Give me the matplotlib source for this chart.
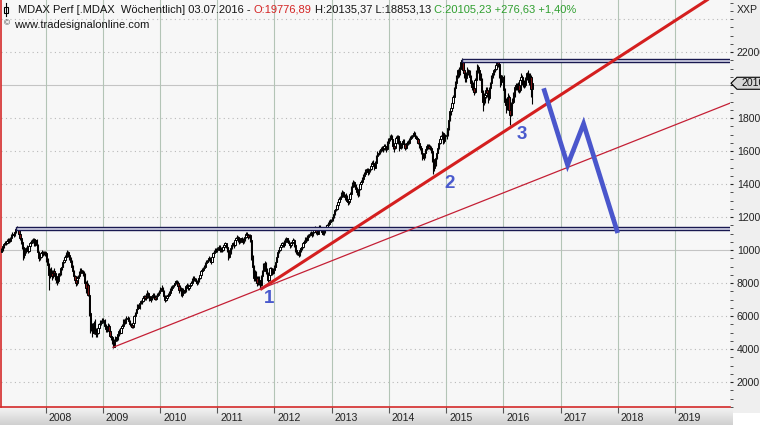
import numpy as np
import pandas as pd
import matplotlib
matplotlib.use('Agg')
import matplotlib.pyplot as plt
import matplotlib.dates as mdates
from matplotlib.patches import Rectangle, Polygon
from matplotlib.ticker import MultipleLocator
from matplotlib.transforms import offset_copy
from matplotlib.colors import LinearSegmentedColormap

# ---------------- data (weekly MDAX Perf) ----------------
last_bar_date = '2016-07-03'
first_open = 9900
closes = [
    # 2007
    10000, 10250, 10350, 10450, 10400, 10550, 10600, 10550, 10700, 10900,
    11000, 10900, 11100, 11300, 11350, 11200, 11000, 10700, 10500, 10200,
    9700, 9900, 10100, 10150, 9950, 10250, 10400, 10500, 10550, 10650,
    10350, 10600, 10300, 9900, 9500, 9600, 9800, 9900, 9750, 9850, 9800,
    # 2008
    9400, 9100, 8500, 8700, 8600, 8400, 8700, 8600, 8400, 8200, 8100, 8500, 8600,
    8900, 9000, 9300, 9400, 9600, 9800, 9900, 9700, 9500, 9300, 9000, 8700, 8400,
    8200, 8000, 8300, 8400, 8600, 8800, 8700, 8600, 8500, 8000, 7700, 7900, 7300,
    6200, 5300, 5400, 5000, 5600, 5200, 4900, 5000, 5300, 5500, 5600, 5650, 5750,
    # 2009
    5700, 5400, 5200, 5300, 5400, 5100, 4800, 4700, 4400, 4150, 4500, 4700, 4600,
    4900, 5100, 5000, 5300, 5400, 5700, 5600, 5800, 5900, 5850, 5700, 5500, 5450,
    5350, 5600, 6000, 6200, 6400, 6600, 6500, 6800, 6900, 6900, 7100, 7200, 7100,
    7300, 7400, 7200, 7000, 7100, 7200, 7300, 7150, 7050, 7200, 7300, 7400, 7500,
    # 2010
    7600, 7700, 7500, 7200, 7000, 7100, 7200, 7300, 7400, 7600, 7700, 7800, 7900,
    8000, 8100, 8000, 7800, 7600, 7700, 7300, 7400, 7600, 7500, 7800, 7900, 7700,
    7800, 7900, 8000, 8200, 8300, 8200, 8100, 8000, 8100, 8300, 8500, 8700, 8800,
    8900, 9000, 9200, 9300, 9400, 9500, 9400, 9300, 9600, 9800, 9900, 10000, 10000,
    # 2011
    10100, 10200, 10000, 10100, 10000, 10200, 10300, 10400, 10200, 10000, 9600, 9800, 10100,
    10300, 10400, 10300, 10600, 10700, 10800, 10600, 10500, 10700, 10600, 10500, 10600, 10800,
    11000, 10900, 10800, 10900, 10600, 9600, 9000, 8300, 8600, 8300, 8000, 8200, 8100,
    7900, 8400, 8700, 9100, 9200, 8700, 8600, 8200, 8500, 8900, 8700, 8600, 8800,
    # 2012
    9000, 9300, 9600, 9900, 10000, 10200, 10300, 10400, 10300, 10500, 10600, 10700, 10500,
    10400, 10300, 10400, 10500, 10600, 10300, 10000, 9900, 9800, 9700, 10000, 10100, 10200,
    10400, 10500, 10700, 10600, 10800, 10900, 11000, 11000, 10900, 11100, 11200, 11300, 11100, 11000,
    11200, 11400, 11300, 11100, 11000, 11100, 11300, 11400, 11500, 11600, 11700, 11750, 11800,
    # 2013
    12000, 12200, 12400, 12500, 12700, 12900, 13100, 13200, 13400, 13500, 13300, 13200, 13300,
    13000, 12900, 13100, 13400, 13800, 14000, 14100, 13900, 13700, 13500, 13400, 13700, 14000,
    14100, 14300, 14500, 14600, 14800, 14900, 14700, 14800, 14900, 15100, 15300, 15200, 15000,
    15300, 15700, 15900, 15900, 16000, 16100, 16200, 16100, 16300, 16200, 16100, 16500, 16700,
    # 2014
    16800, 16900, 16700, 16300, 16200, 16500, 16800, 16900, 16600, 16200, 16300, 16500, 16600,
    16400, 16200, 16400, 16500, 16500, 16700, 16800, 16900, 17000, 17100, 16900, 16800, 16700,
    16500, 16300, 16200, 15900, 15600, 15700, 15900, 16100, 16300, 16300, 16200, 16200, 16000,
    15500, 15000, 15200, 15600, 15900, 16200, 16500, 16700, 16900, 17100, 16600, 16900, 16900,
    # 2015
    17000, 17400, 17900, 18400, 18600, 18900, 19300, 19800, 20100, 20500, 20900, 20700, 21000,
    21400, 21500, 20900, 20700, 20400, 20700, 20900, 20800, 20500, 20100, 19900, 19800, 19600,
    20300, 20800, 21100, 20900, 20500, 20300, 19600, 19000, 19300, 19400, 19700, 19500, 19200,
    19800, 20100, 20500, 20700, 20900, 21000, 21200, 21400, 21300, 20600, 20200, 20400, 20500,
    # 2016
    19700, 19000, 18800, 18900, 19300, 18500, 18200, 18900, 19000, 19500, 19900, 20000, 19900,
    20000, 19700, 20300, 20500, 20200, 20100, 20000, 20400, 20700, 20600, 20200, 20500, 19777, 20105,
]
highs = [
    # 2007
    10100, 10300, 10450, 10550, 10550, 10650, 10700, 10700, 10800, 10950,
    11100, 11100, 11200, 11400, 11450, 11400, 11250, 11050, 10800, 10600,
    10300, 10000, 10200, 10300, 10250, 10300, 10450, 10600, 10650, 10750,
    10700, 10650, 10650, 10350, 9950, 9750, 9900, 10000, 9950, 9950, 9950,
    # 2008
    9900, 9500, 9200, 8900, 9000, 8800, 8800, 8900, 8700, 8500, 8350, 8600, 8700,
    9000, 9100, 9350, 9500, 9700, 9900, 10000, 9950, 9800, 9600, 9400, 9100, 8800,
    8500, 8300, 8400, 8500, 8700, 8900, 8900, 8800, 8700, 8600, 8100, 8200, 8000,
    7400, 6300, 5900, 5600, 5700, 5800, 5300, 5200, 5400, 5600, 5750, 5750, 5850,
    # 2009
    5900, 5800, 5500, 5400, 5550, 5500, 5200, 4950, 4800, 4500, 4600, 4800, 4850,
    5000, 5200, 5250, 5400, 5500, 5800, 5800, 5900, 6000, 6000, 5950, 5750, 5600,
    5500, 5650, 6050, 6250, 6450, 6700, 6700, 6850, 7000, 7050, 7200, 7300, 7300,
    7400, 7600, 7450, 7300, 7200, 7300, 7400, 7400, 7250, 7300, 7400, 7450, 7600,
    # 2010
    7750, 7850, 7750, 7550, 7300, 7250, 7300, 7400, 7500, 7700, 7800, 7900, 8000,
    8100, 8200, 8200, 8100, 7900, 7900, 7750, 7550, 7700, 7700, 7850, 8000, 7950,
    7900, 8000, 8100, 8300, 8400, 8400, 8300, 8200, 8200, 8400, 8600, 8800, 8900,
    9000, 9100, 9300, 9400, 9500, 9650, 9600, 9500, 9700, 9900, 10000, 10100, 10100,
    # 2011
    10200, 10300, 10300, 10200, 10200, 10300, 10400, 10500, 10450, 10300, 10100, 9900, 10200,
    10400, 10500, 10500, 10650, 10800, 10900, 10850, 10700, 10750, 10800, 10700, 10700, 10900,
    11100, 11100, 11000, 11000, 10950, 10650, 9700, 9100, 8800, 8700, 8400, 8400, 8400,
    8200, 8500, 8800, 9200, 9350, 9250, 8900, 8650, 8600, 9000, 9000, 8800, 8900,
    # 2012
    9100, 9400, 9700, 10000, 10100, 10300, 10400, 10500, 10500, 10600, 10700, 10800, 10750,
    10600, 10500, 10500, 10600, 10700, 10650, 10400, 10100, 10000, 9900, 10100, 10200, 10300,
    10500, 10600, 10800, 10800, 10900, 11000, 11100, 11150, 11100, 11200, 11350, 11450, 11350, 11200,
    11300, 11500, 11500, 11350, 11200, 11200, 11400, 11500, 11600, 11700, 11800, 11850, 11900,
    # 2013
    12100, 12300, 12500, 12650, 12800, 13000, 13200, 13300, 13500, 13650, 13600, 13400, 13450,
    13350, 13100, 13200, 13500, 13850, 14100, 14250, 14200, 14000, 13800, 13600, 13800, 14100,
    14250, 14400, 14600, 14700, 14900, 15000, 15000, 14900, 15000, 15200, 15400, 15450, 15300,
    15400, 15750, 16000, 16050, 16100, 16250, 16300, 16300, 16400, 16400, 16300, 16600, 16800,
    # 2014
    16950, 17050, 17000, 16750, 16400, 16600, 16900, 17000, 16950, 16700, 16450, 16600, 16750,
    16700, 16500, 16500, 16600, 16650, 16800, 16900, 17000, 17100, 17200, 17150, 17000, 16900,
    16800, 16600, 16400, 16300, 16000, 15800, 16000, 16200, 16400, 16450, 16400, 16350, 16300,
    16100, 15600, 15300, 15700, 16000, 16300, 16600, 16800, 17000, 17200, 17150, 17000, 17050,
    # 2015
    17200, 17500, 18000, 18500, 18700, 19000, 19400, 19900, 20250, 20600, 21000, 21100, 21150,
    21500, 21650, 21550, 21100, 20800, 20800, 21100, 21000, 20900, 20600, 20300, 20200, 20000,
    20400, 20900, 21250, 21200, 21000, 20700, 20400, 19700, 19500, 19600, 19900, 19900, 19600,
    19900, 20200, 20600, 20800, 21000, 21150, 21300, 21500, 21500, 21350, 20700, 20500, 20600,
    # 2016
    20600, 19800, 19200, 19200, 19500, 19400, 18600, 19000, 19200, 19600, 20000, 20100, 20100,
    20200, 20100, 20400, 20700, 20600, 20300, 20300, 20500, 20800, 20900, 20700, 20700, 20600, 20135,
]
lows = [
    # 2007
    9850, 9950, 10150, 10300, 10300, 10350, 10450, 10450, 10500, 10650,
    10850, 10800, 10850, 11050, 11200, 11100, 10900, 10600, 10350, 10050,
    9400, 9500, 9800, 9950, 9800, 9850, 10150, 10300, 10400, 10450,
    10250, 10250, 10200, 9800, 9350, 9400, 9500, 9700, 9650, 9700, 9650,
    # 2008
    9300, 8900, 7600, 8300, 8400, 8200, 8300, 8450, 8200, 8000, 7850, 8000, 8400,
    8500, 8800, 8950, 9200, 9350, 9550, 9700, 9600, 9400, 9200, 8900, 8600, 8300,
    8000, 7800, 7900, 8150, 8300, 8500, 8600, 8450, 8350, 7900, 7400, 7500, 7200,
    6000, 5000, 5100, 4700, 4900, 5100, 4750, 4750, 4900, 5200, 5350, 5450, 5550,
    # 2009
    5550, 5300, 5050, 5050, 5200, 5000, 4750, 4550, 4300, 4080, 4100, 4400, 4500,
    4550, 4800, 4900, 4950, 5200, 5350, 5500, 5500, 5700, 5750, 5600, 5400, 5350,
    5250, 5300, 5550, 5950, 6100, 6350, 6400, 6450, 6700, 6750, 6850, 7050, 7000,
    7000, 7250, 7100, 6900, 6850, 7000, 7100, 7050, 6950, 7000, 7150, 7250, 7350,
    # 2010
    7450, 7550, 7400, 7100, 6850, 6900, 7000, 7150, 7250, 7350, 7550, 7650, 7750,
    7850, 7950, 7900, 7700, 7400, 7500, 7200, 7150, 7350, 7400, 7450, 7750, 7600,
    7600, 7700, 7850, 7950, 8150, 8100, 8000, 7900, 7950, 8050, 8250, 8450, 8650,
    8750, 8850, 8950, 9150, 9250, 9350, 9300, 9150, 9250, 9550, 9750, 9850, 9900,
    # 2011
    9900, 10000, 9900, 9900, 9850, 9950, 10150, 10250, 10100, 9900, 9400, 9500, 9750,
    10050, 10250, 10150, 10250, 10550, 10650, 10500, 10350, 10450, 10500, 10350, 10400, 10550,
    10750, 10800, 10650, 10700, 10500, 9400, 8600, 8100, 8150, 8100, 7800, 7850, 7900,
    7650, 7800, 8300, 8600, 9000, 8550, 8450, 8050, 8100, 8450, 8600, 8500, 8550,
    # 2012
    8700, 8950, 9250, 9550, 9800, 9950, 10100, 10250, 10200, 10200, 10400, 10550, 10400,
    10300, 10150, 10200, 10300, 10450, 10200, 9900, 9750, 9700, 9600, 9650, 9900, 10000,
    10150, 10350, 10450, 10500, 10550, 10750, 10850, 10900, 10800, 10850, 11050, 11150, 11000, 10900,
    10950, 11150, 11200, 11000, 10900, 10900, 11050, 11250, 11350, 11450, 11550, 11650, 11700,
    # 2013
    11750, 11950, 12150, 12350, 12400, 12600, 12850, 13000, 13100, 13300, 13200, 13050, 13100,
    12900, 12750, 12800, 13050, 13350, 13750, 13950, 13800, 13600, 13350, 13200, 13300, 13650,
    13950, 14050, 14250, 14400, 14550, 14700, 14550, 14600, 14700, 14850, 15050, 15100, 14850,
    14950, 15250, 15650, 15750, 15800, 15950, 16000, 15950, 16050, 16050, 15950, 16050, 16450,
    # 2014
    16600, 16750, 16600, 16150, 15950, 16150, 16450, 16750, 16400, 16000, 16100, 16200, 16400,
    16300, 16050, 16100, 16300, 16350, 16450, 16650, 16750, 16850, 16950, 16800, 16700, 16550,
    16400, 16200, 16050, 15800, 15450, 15450, 15600, 15850, 16050, 16150, 16100, 16050, 15900,
    15350, 14600, 14800, 15100, 15500, 15850, 16150, 16450, 16650, 16850, 16400, 16500, 16800,
    # 2015
    16700, 16900, 17300, 17800, 18200, 18400, 18850, 19250, 19700, 20000, 20400, 20500, 20600,
    20950, 21300, 20700, 20400, 20200, 20200, 20600, 20600, 20300, 19900, 19700, 19600, 19400,
    19500, 20200, 20700, 20700, 20300, 20100, 19400, 18400, 18800, 18900, 19200, 19300, 18900,
    19100, 19700, 20000, 20400, 20600, 20800, 20900, 21100, 21100, 20400, 19900, 20000, 20300,
    # 2016
    19500, 18800, 18300, 18500, 18800, 18300, 17600, 18100, 18700, 18900, 19300, 19700, 19700,
    19600, 19500, 19600, 20200, 20000, 19900, 19800, 19900, 20300, 20500, 20000, 20100, 19300, 18853,
]

# drawn analysis objects (dates / index levels)
support_dates = ['2011-10-02', '2016-02-11']        # thick red trend line anchors
support_values = [7600, 17400]
long_trend_dates = ['2009-03-06', '2019-12-19']     # thin red trend line
long_trend_values = [4100, 18900]
band_starts = ['2015-04-10', '2007-06-28']          # resistance boxes
band_lows = [21380, 11200]
band_highs = [21580, 11400]
forecast_dates = ['2016-09-15', '2017-02-15', '2017-05-28', '2018-01-01']
forecast_values = [19800, 15150, 17650, 11030]
label_texts = ['1', '2', '3']
label_dates = ['2011-11-25', '2015-01-23', '2016-04-27']
label_values = [7090, 14060, 17030]
year_labels = list(range(2008, 2020))
y_tick_values = list(range(2000, 24000, 2000))

header_parts = [
    ('MDAX Perf [.MDAX  Wöchentlich] 03.07.2016 -', '#151515'),
    ('O:19776,89', '#d42323'),
    ('H:20135,37 L:18853,13', '#151515'),
    ('C:20105,23 +276,63 +1,40%', '#2f9f2f'),
]
source_text = 'www.tradesignalonline.com'
axis_unit = 'XXP'

# ---------------- figure ----------------
plt.rcParams['font.family'] = ['Liberation Sans', 'DejaVu Sans']
W, H = 760, 425
fig = plt.figure(figsize=(W / 100, H / 100), dpi=100)
fig.patch.set_facecolor('white')

# right price-axis panel
fig.add_artist(Rectangle((730 / W, 12 / H), 30 / W, 1 - 12 / H, transform=fig.transFigure,
                         facecolor='#efefef', edgecolor='none', zorder=-5))
# bottom time-axis strip (gradient)
bax = fig.add_axes([0, 0, 733 / W, 18 / H], zorder=-4)
grad = np.linspace(0, 1, 40).reshape(-1, 1)
bax.imshow(grad, aspect='auto', extent=[0, 1, 0, 1], origin='upper',
           cmap=LinearSegmentedColormap.from_list('g', ['#f4f4f4', '#d0d0d0']))
bax.axis('off')

ax = fig.add_axes([1 / W, 18 / H, 729 / W, 407 / H])
ax.set_facecolor('#f7f7f7')
xmin = mdates.date2num(pd.Timestamp('2007-03-22'))
xmax = mdates.date2num(pd.Timestamp('2019-12-19'))
ax.set_xlim(xmin, xmax)
ax.set_ylim(485, 25152)

# grid
for v in range(2000, 26000, 2000):
    if v % 10000 == 0:
        ax.axhline(v, color='#c4c4c4', lw=0.8, zorder=1)
    else:
        ax.axhline(v, color='#b9b9b9', lw=0.8, ls=(0, (1, 3)), zorder=1)
year_x = [mdates.date2num(pd.Timestamp(f'{y}-01-01')) for y in year_labels]
for xd in year_x:
    ax.axvline(xd, color='#b3c4b6', lw=0.8, zorder=1)

# candles
dates = pd.date_range(end=last_bar_date, periods=len(closes), freq='W-SUN')
xs = mdates.date2num(dates)
c = np.array(closes, float)
o = np.array([first_open] + closes[:-1], float)
hi = np.array(highs, float)
lo = np.array(lows, float)
up = c >= o
ax.vlines(xs, lo, hi, color='black', lw=0.8, zorder=3)
ax.bar(xs[up], (c - o)[up], bottom=o[up], width=8, color='white',
       edgecolor='black', linewidth=0.7, zorder=4)
ax.bar(xs[~up], (c - o)[~up], bottom=o[~up], width=8, color='#7a1414',
       edgecolor='black', linewidth=0.7, zorder=4)

# resistance boxes
for s, l, h in zip(band_starts, band_lows, band_highs):
    x0 = mdates.date2num(pd.Timestamp(s))
    ax.add_patch(Rectangle((x0, l), xmax + 200 - x0, h - l, facecolor='#dfe1f1',
                           edgecolor='#191950', lw=1.0, zorder=5))

# trend lines
sx = mdates.date2num(pd.to_datetime(support_dates))
slope = (support_values[1] - support_values[0]) / (sx[1] - sx[0])
ax.plot([sx[0], xmax], [support_values[0], support_values[0] + slope * (xmax - sx[0])],
        color='#d41f1f', lw=2.2, solid_capstyle='butt', zorder=6)
lx = mdates.date2num(pd.to_datetime(long_trend_dates))
ax.plot(lx, long_trend_values, color='#c41f35', lw=0.9, zorder=6)

# forecast zigzag
fx_ = mdates.date2num(pd.to_datetime(forecast_dates))
ax.plot(fx_, forecast_values, color='#4a56cc', lw=3.4, solid_joinstyle='miter',
        solid_capstyle='butt', zorder=7)

for t, d, v in zip(label_texts, label_dates, label_values):
    ax.text(mdates.date2num(pd.Timestamp(d)), v, t, color='#4a5acd', fontsize=13.5,
            fontweight='bold', ha='center', va='center', zorder=8)

# spines / ticks
for sp in ['top', 'right']:
    ax.spines[sp].set_visible(False)
for sp in ['left', 'bottom']:
    ax.spines[sp].set_color('#d42a2a')
    ax.spines[sp].set_linewidth(1.2)
ax.set_xticks(year_x)
ax.tick_params(axis='x', direction='out', length=4, width=0.8, color='#555555',
               labelbottom=False)
trans = offset_copy(ax.get_xaxis_transform(), fig=fig, x=3, y=-11, units='dots')
for xd, y in zip(year_x, year_labels):
    ax.text(xd, 0, str(y), transform=trans, ha='left', va='center', fontsize=7.6,
            color='#222222', clip_on=False)

ax.yaxis.tick_right()
ax.set_yticks(y_tick_values)
# the 20000 label sits under the last-price marker, as in the original
ax.set_yticklabels(['' if v == 20000 else str(v) for v in y_tick_values])
ax.yaxis.set_minor_locator(MultipleLocator(500))
ax.tick_params(axis='y', which='major', direction='out', length=2.5, width=0.8,
               colors='#222222', pad=2.5, labelsize=7.6)
ax.tick_params(axis='y', which='minor', direction='out', length=1.8, width=0.6,
               color='#333333')

# overlay in pixel coordinates for header, icons and price box
ov = fig.add_axes([0, 0, 1, 1], zorder=10)
ov.set_xlim(0, W)
ov.set_ylim(H, 0)
ov.axis('off')
ov.patch.set_alpha(0)

# candle icon
ov.plot([6, 6], [3, 16], color='black', lw=0.8)
ov.add_patch(Rectangle((4, 6.5), 4, 6, facecolor='white', edgecolor='black', lw=0.8))
ov.text(7, 24, '©', fontsize=6, ha='center', va='center', color='#333333')

fig.canvas.draw()
renderer = fig.canvas.get_renderer()
xpos = 18
for s, col in header_parts:
    t = ov.text(xpos, 9.5, s, color=col, fontsize=8, ha='left', va='center')
    bb = t.get_window_extent(renderer=renderer)
    xpos = bb.x1 + 3.2
ov.text(14, 24.5, source_text, color='#151515', fontsize=8, ha='left', va='center')
ov.text(737, 10, axis_unit, color='#222222', fontsize=7.6, ha='left', va='center')

# last price marker
ydisp = ax.transData.transform((xmin, closes[-1]))[1]
yp = H - ydisp
ov.add_patch(Polygon([(731, yp), (737, yp - 6), (762, yp - 6), (762, yp + 6), (737, yp + 6)],
                     closed=True, facecolor='#d6d6d6', edgecolor='black', lw=0.8))
ov.text(741, yp, f'{closes[-1]:.0f}', fontsize=7.6, ha='left', va='center', color='#111111')

fig.savefig('out.png', dpi=100)
